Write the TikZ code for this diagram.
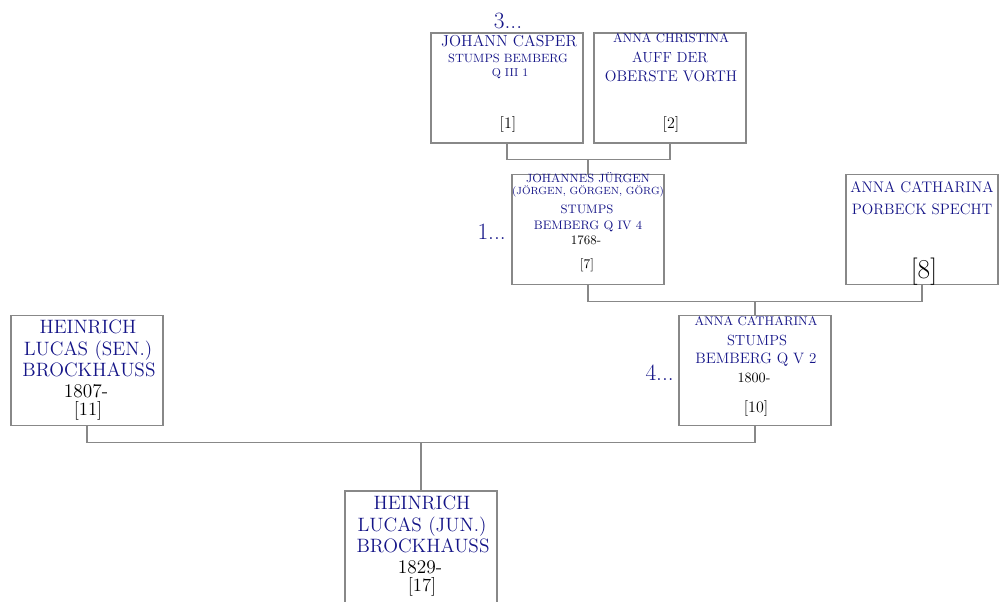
\documentclass[tikz,border=0pt]{standalone}
\usetikzlibrary{calc}
\definecolor{nmcol}{RGB}{20,20,135}
\definecolor{lncol}{RGB}{136,136,136}
\newcommand\fsz[1]{\fontsize{#1}{#1}\selectfont}
\begin{document}
\begin{tikzpicture}[x=0.75pt,y=-0.75pt,
  box/.style={draw=lncol,line width=0.8pt,minimum width=114pt,minimum height=82.5pt,inner sep=0pt},
  conn/.style={draw=lncol,line width=0.8pt},
  nm/.style={text=nmcol,anchor=base,inner sep=0pt},
  dt/.style={text=black,anchor=base,inner sep=0pt},
  lab/.style={text=nmcol,anchor=base east,inner sep=0pt,font=\fsz{17.5}}]
\useasboundingbox (0,0) rectangle (1005,601);
\clip (0,0) rectangle (1005,601);

% boxes
\node[box] (b1) at (507,88) {};
\node[box] (b2) at (670,88) {};
\node[box] (b7) at (588,229.5) {};
\node[box] (b8) at (922,229.5) {};
\node[box] (b10) at (755,370.5) {};
\node[box] (b11) at (87,370.5) {};
\node[box,minimum height=90pt] (b17) at (421,551) {};

% connectors
\coordinate (m1) at ($(b1.south)!0.5!(b2.south)+(0,16)$);
\draw[conn] (b1.south) -- ++(0,16) -| (b2.south);
\draw[conn] (b7.north) -- (b7.north |- m1);
\coordinate (m2) at ($(b7.south)!0.5!(b8.south)+(0,16)$);
\draw[conn] (b7.south) -- ++(0,16) -| (b8.south);
\draw[conn] (b10.north) -- (b10.north |- m2);
\coordinate (m3) at ($(b11.south)!0.5!(b10.south)+(0,16)$);
\draw[conn] (b11.south) -- ++(0,16) -| (b10.south);
\draw[conn] (b17.north) -- (b17.north |- m3);

% box 1
\node[nm,font=\fsz{11.9}] (t1a) at (509,46) {JOHANN CASPER};
\node[nm,font=\fsz{9}] (t1b) at (508,62) {STUMPS BEMBERG};
\node[nm,font=\fsz{8.6}] (t1c) at (510,76) {Q III 1};
\node[dt,font=\fsz{12}] (t1d) at (508,128) {[1]};
\node[nm,font=\fsz{17.5}] (l3) at (508,28) {3...};

% box 2
\node[nm,font=\fsz{9.6}] (t2a) at (671,42) {ANNA CHRISTINA};
\node[nm,font=\fsz{11}] (t2b) at (670,62) {AUFF DER};
\node[nm,font=\fsz{11.5}] (t2c) at (671,81) {OBERSTE VORTH};
\node[dt,font=\fsz{12}] (t2d) at (671,128) {[2]};

% box 7
\node[nm,font=\fsz{9}] (t7a) at (588,182) {JOHANNES JÜRGEN};
\node[nm,font=\fsz{7.8}] (t7b) at (588,194) {(JÖRGEN, GÖRGEN, GÖRG)};
\node[nm,font=\fsz{9.2}] (t7c) at (587,213) {STUMPS};
\node[nm,font=\fsz{9.2}] (t7d) at (588,229) {BEMBERG Q IV 4};
\node[dt,font=\fsz{9.7}] (t7e) at (586,244) {1768-};
\node[dt,font=\fsz{10}] (t7f) at (587,268) {[7]};
\node[lab] (l1) at (506,239) {1...};

% box 8
\node[nm,font=\fsz{11.5}] (t8a) at (922,192) {ANNA CATHARINA};
\node[nm,font=\fsz{11.3}] (t8b) at (922,214) {PORBECK SPECHT};
\node[dt,font=\fsz{20.5}] (t8c) at (924,278) {[8]};

% box 10
\node[nm,font=\fsz{9.4}] (t10a) at (756,325) {ANNA CATHARINA};
\node[nm,font=\fsz{11}] (t10b) at (757,345) {STUMPS};
\node[nm,font=\fsz{11.3}] (t10c) at (756,363) {BEMBERG Q V 2};
\node[dt,font=\fsz{10.6}] (t10d) at (754,382) {1800-};
\node[dt,font=\fsz{12}] (t10e) at (756,412) {[10]};
\node[lab] (l4) at (674,380) {4...};

% box 11
\node[nm,font=\fsz{14.5}] (t11a) at (88,333) {HEINRICH};
\node[nm,font=\fsz{14.5}] (t11b) at (88,355) {LUCAS (SEN.)};
\node[nm,font=\fsz{14.5}] (t11c) at (89,376) {BROCKHAUSS};
\node[dt,font=\fsz{14.5}] (t11d) at (86,397) {1807-};
\node[dt,font=\fsz{14}] (t11e) at (88,415) {[11]};

% box 17
\node[nm,font=\fsz{14.5}] (t17a) at (422,509) {HEINRICH};
\node[nm,font=\fsz{14.5}] (t17b) at (422,531) {LUCAS (JUN.)};
\node[nm,font=\fsz{14.5}] (t17c) at (423,552) {BROCKHAUSS};
\node[dt,font=\fsz{14.5}] (t17d) at (420,573) {1829-};
\node[dt,font=\fsz{14}] (t17e) at (422,591) {[17]};
\end{tikzpicture}
\end{document}
